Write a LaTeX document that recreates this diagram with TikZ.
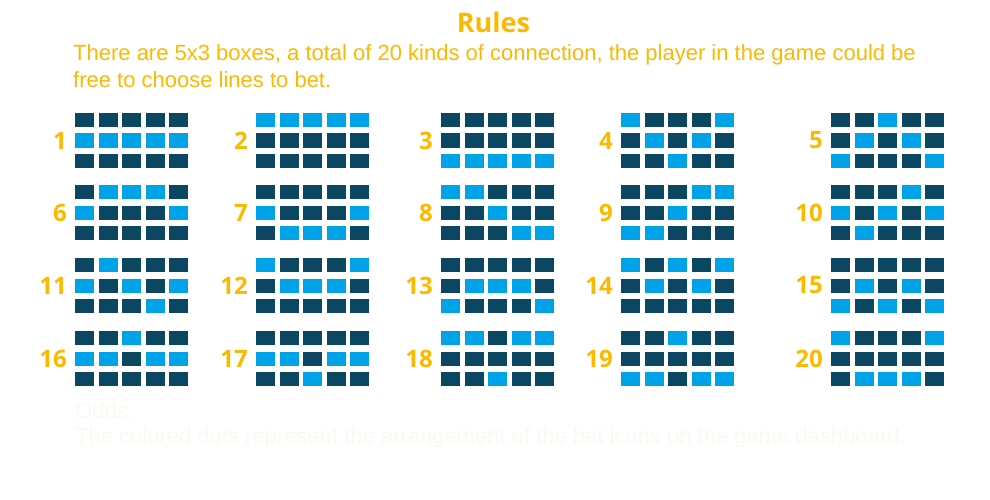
\documentclass[tikz,border=0pt]{standalone}
\usepackage{fontspec}
\setmainfont{Liberation Sans}
\newfontfamily\opensans{Open Sans}
\definecolor{gold}{RGB}{252,185,0}
\definecolor{dcell}{RGB}{11,70,98}
\definecolor{lcell}{RGB}{0,163,232}
\definecolor{faint}{RGB}{245,252,240}
\begin{document}
\begin{tikzpicture}[x=1pt,y=-1pt,
  cell/.style={draw=none,inner sep=0,minimum width=19pt,minimum height=14pt},
  num/.style={text=gold,inner sep=0,anchor=east,font=\opensans\bfseries\fontsize{24}{24}\selectfont},
  body/.style={text=gold,inner sep=0,anchor=base west,font=\fontsize{22}{24}\selectfont},
  fainttxt/.style={text=faint,inner sep=0,anchor=base west,font=\fontsize{22}{24}\selectfont}]
\useasboundingbox (0,0) rectangle (990,500);
\fill[white] (0,0) rectangle (990,500);
\node[text=gold,inner sep=0,anchor=base,font=\opensans\bfseries\fontsize{27}{27}\selectfont] (title) at (493.5,33) {Rules};
\node[body] (l1) at (73,61) {There are 5x3 boxes, a total of 20 kinds of connection, the player in the game could be};
\node[body] (l2) at (73,88) {free to choose lines to bet.};
\node[fainttxt] (o1) at (75,418) {Odds:};
\node[fainttxt] (o2) at (75,443) {The colored dots represent the arrangement of the bet icons on the game dashboard.};
\foreach \n/\gx/\gy/\p in {
  1/75/113/{2,2,2,2,2}, 2/256/113/{1,1,1,1,1}, 3/441/113/{3,3,3,3,3}, 4/621/113/{1,2,3,2,1}, 5/831/113/{3,2,1,2,3},
  6/75/185/{2,1,1,1,2}, 7/256/185/{2,3,3,3,2}, 8/441/185/{1,1,2,3,3}, 9/621/185/{3,3,2,1,1}, 10/831/185/{2,3,2,1,2},
  11/75/258/{2,1,2,3,2}, 12/256/258/{1,2,2,2,1}, 13/441/258/{3,2,2,2,3}, 14/621/258/{1,2,1,2,1}, 15/831/258/{3,2,3,2,3},
  16/75/331/{2,2,1,2,2}, 17/256/331/{2,2,3,2,2}, 18/441/331/{1,1,3,1,1}, 19/621/331/{3,3,1,3,3}, 20/831/331/{1,3,3,3,1}}{
  \node[num] (n\n) at (\gx-8,\gy+27.5) {\n};
  \foreach \lr [count=\c] in \p {
    \foreach \r in {1,2,3}{
      \ifnum\r=\lr\relax \def\cc{lcell}\else\def\cc{dcell}\fi
      \node[cell,fill=\cc] (g\n-\c-\r) at ({\gx+(\c-1)*23.5+9.5},{\gy+(\r-1)*20.5+7}) {};
    }
  }
}
\end{tikzpicture}
\end{document}
